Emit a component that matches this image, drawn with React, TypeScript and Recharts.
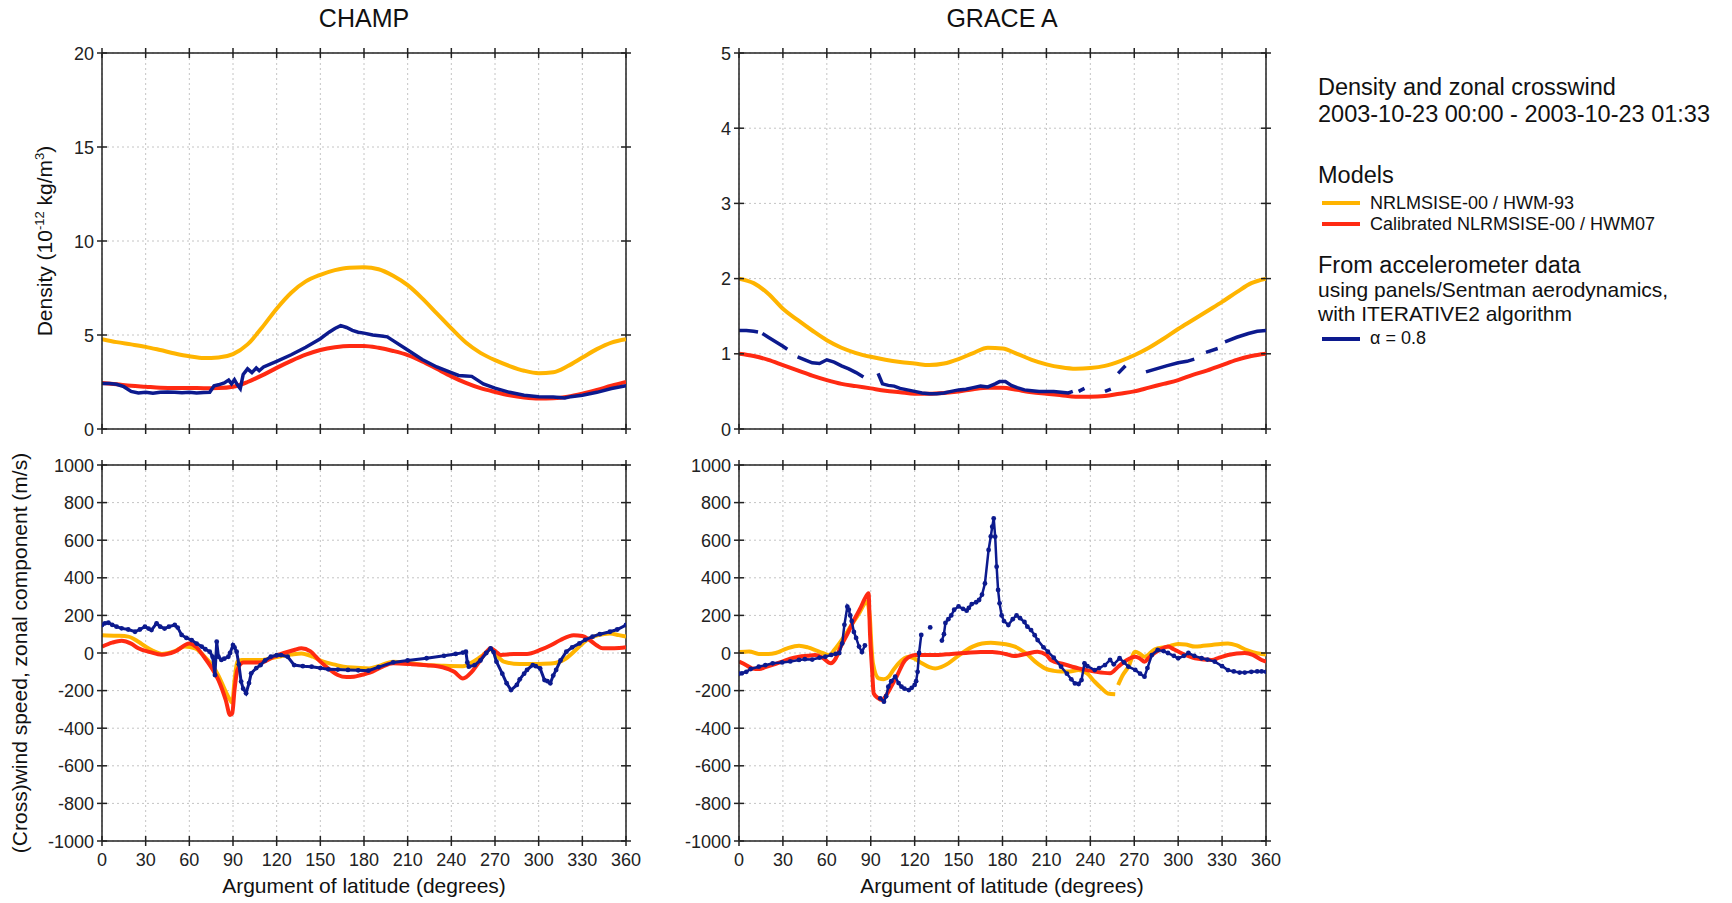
import React from 'react';
import { ComposedChart, Line, XAxis, YAxis, CartesianGrid, ReferenceLine } from 'recharts';

const YELLOW = '#ffb400';
const RED = '#ff2a12';
const BLUE = '#0c1a8e';
const AXIS = '#222';
const FONT = '"Liberation Sans", Arial, sans-serif';

// ticks
const angleTicks = [0, 30, 60, 90, 120, 150, 180, 210, 240, 270, 300, 330, 360];
const champDensityTicks = [0, 5, 10, 15, 20];
const graceDensityTicks = [0, 1, 2, 3, 4, 5];
const windTicks = [-1000, -800, -600, -400, -200, 0, 200, 400, 600, 800, 1000];

// model curves are sampled every 10 degrees
const modelAngles = [0, 10, 20, 30, 40, 50, 60, 70, 80, 90, 100, 110, 120, 130, 140, 150, 160, 170, 180,
  190, 200, 210, 220, 230, 240, 250, 260, 270, 280, 290, 300, 310, 320, 330, 340, 350, 360];

const champNrlDensity = [4.78, 4.62, 4.5, 4.37, 4.2, 4.02, 3.87, 3.77, 3.8, 3.98, 4.5, 5.4, 6.4, 7.25, 7.85, 8.2, 8.45, 8.58, 8.6,
  8.5, 8.15, 7.65, 6.95, 6.15, 5.35, 4.6, 4.05, 3.66, 3.35, 3.1, 2.97, 3.02, 3.35, 3.8, 4.25, 4.6, 4.78];
const champCalDensity = [2.45, 2.38, 2.3, 2.25, 2.2, 2.18, 2.18, 2.17, 2.18, 2.25, 2.5, 2.85, 3.25, 3.62, 3.95, 4.2, 4.35, 4.42, 4.42,
  4.32, 4.15, 3.93, 3.6, 3.2, 2.8, 2.45, 2.17, 1.97, 1.8, 1.68, 1.62, 1.64, 1.72, 1.88, 2.08, 2.3, 2.5];
const graceNrlDensity = [2.0, 1.94, 1.8, 1.6, 1.45, 1.31, 1.18, 1.08, 1.01, 0.96, 0.92, 0.89, 0.87, 0.85, 0.87, 0.93, 1.01, 1.08, 1.07,
  1.0, 0.92, 0.86, 0.82, 0.8, 0.81, 0.84, 0.9, 0.98, 1.08, 1.2, 1.33, 1.45, 1.57, 1.69, 1.82, 1.94, 2.0];
const graceCalDensity = [1.0, 0.97, 0.92, 0.85, 0.78, 0.71, 0.65, 0.6, 0.57, 0.54, 0.51, 0.49, 0.47, 0.47, 0.48, 0.5, 0.53, 0.55, 0.55,
  0.52, 0.49, 0.47, 0.45, 0.43, 0.43, 0.44, 0.47, 0.5, 0.55, 0.6, 0.65, 0.72, 0.78, 0.85, 0.92, 0.97, 1.0];

type Pt = [number, number | null];

// accelerometer densities (null = data gap)
const champAccDensity: Pt[] = [[0, 2.42], [5, 2.42], [10, 2.38], [15, 2.25], [20, 2.0], [25, 1.92], [30, 1.95], [35, 1.9], [40, 1.95],
  [45, 1.97], [50, 1.95], [55, 1.93], [60, 1.96], [65, 1.92], [70, 1.94], [74, 1.95], [77, 2.3], [80, 2.35], [84, 2.45], [87, 2.6],
  [89, 2.4], [91, 2.62], [93, 2.35], [95, 2.15], [97, 2.9], [100, 3.2], [103, 3.0], [106, 3.25], [108, 3.1], [111, 3.3], [120, 3.6],
  [130, 3.95], [140, 4.35], [150, 4.8], [156, 5.15], [160, 5.35], [164, 5.5], [168, 5.4], [172, 5.25], [176, 5.15], [180, 5.1],
  [186, 5.0], [192, 4.95], [196, 4.9], [200, 4.7], [210, 4.2], [220, 3.7], [230, 3.3], [240, 3.0], [245, 2.85], [250, 2.82],
  [254, 2.8], [258, 2.6], [262, 2.4], [270, 2.17], [280, 1.95], [290, 1.8], [300, 1.72], [310, 1.7], [318, 1.65], [322, 1.72],
  [330, 1.8], [340, 1.95], [350, 2.15], [360, 2.3]];
const graceAccDensity: Pt[] = [[0, 1.31], [5, 1.31], [10, 1.3], [13, 1.29], [14.5, null], [16, 1.27], [20, 1.22], [25, 1.16],
  [30, 1.1], [33, 1.06], [36, null], [40, 0.96], [45, 0.92], [50, 0.88], [55, 0.87], [60, 0.92], [65, 0.89], [70, 0.84], [75, 0.8],
  [80, 0.75], [85, 0.69], [90, null], [95, 0.74], [98, 0.6], [102, 0.58], [106, 0.57], [110, 0.54], [115, 0.52], [120, 0.5],
  [125, 0.48], [130, 0.47], [135, 0.47], [140, 0.48], [145, 0.5], [150, 0.52], [155, 0.53], [160, 0.55], [165, 0.57], [170, 0.56],
  [175, 0.6], [178, 0.63], [182, 0.63], [186, 0.58], [190, 0.55], [195, 0.52], [200, 0.51], [205, 0.5], [210, 0.5], [215, 0.5],
  [220, 0.49], [225, 0.48], [228, 0.5], [230, null], [232, 0.5], [236, 0.54], [240, null], [250, 0.5], [254, 0.53], [256, null],
  [259, 0.74], [264, 0.84], [270, null], [278, 0.76], [285, 0.8], [292, 0.84], [300, 0.88], [306, 0.9], [311, 0.93], [315, null],
  [319, 1.02], [327, 1.07], [330, null], [332, 1.16], [340, 1.22], [348, 1.27], [354, 1.3], [360, 1.31]];

// zonal wind, m/s
const champNrlWind: Pt[] = [[0, 95], [10, 92], [18, 87], [25, 60], [30, 34], [35, 12], [41, -5], [50, 10], [57, 34], [64, 25],
  [70, -15], [75.5, -64], [80, -120], [84.5, -197], [88, -250], [89.5, -265], [91, -150], [93, -46], [96, -37], [109, -37],
  [121, -20], [130, -8], [137, -2], [145, -20], [152, -46], [160, -62], [166, -73], [175, -78], [183.5, -82], [190, -70],
  [200, -46], [212, -55], [223, -64], [235, -68], [248, -70], [255, -46], [262, -10], [267, 20], [271, -10], [276, -46],
  [287, -59], [300, -58], [310, -55], [319, -28], [326, 20], [333, 69], [341, 95], [349, 104], [355, 95], [360, 87]];
const champCalWind: Pt[] = [[0, 34], [7, 55], [13.5, 65], [20, 50], [25, 25], [33, 5], [41, -9], [50, 7], [60, 51], [65, 30],
  [70, -20], [75, -75], [80, -144], [85, -250], [88, -330], [89.5, -320], [91, -200], [93, -90], [97, -50], [109, -51],
  [118, -20], [125, 0], [132, 16], [137, 25], [143, 10], [150, -46], [156, -85], [162, -117], [168, -128], [173, -126],
  [178, -117], [184, -105], [192, -75], [200, -55], [212, -59], [223, -65], [234, -76], [242, -100], [248, -135], [254, -100],
  [260, -37], [264, 5], [267, 25], [271, 5], [274, -10], [283, -5], [292, -5], [301, 16], [308, 40], [315, 69], [324, 95],
  [330, 90], [335, 69], [340, 40], [344, 25], [352, 25], [360, 30]];
const champAccWind: Pt[] = [[0, 149], [2, 158], [4.4, 161], [7, 150], [10, 140], [13.5, 131], [18, 125], [22.7, 113], [26, 125],
  [29.5, 140], [32, 130], [34, 122], [37.5, 158], [40, 140], [43, 130], [46, 140], [50, 149], [52, 135], [54.7, 96], [58, 80],
  [61.6, 69], [65, 50], [68.5, 34], [71, 20], [74, 7], [76, -20], [77.6, -117], [78.8, 60], [80, -20], [82, -37], [84, -30],
  [86.8, -20], [88, 0], [90, 42], [91, 30], [92.5, 7], [94, -60], [95.6, -152], [97, -190], [99, -214], [101, -160],
  [102.5, -108], [106, -80], [109, -64], [112, -40], [116, -20], [120, -12], [123, -11], [127.6, -20], [132, -64], [138, -70],
  [144, -73], [150, -80], [155.5, -87], [162, -88], [169, -90], [176, -92], [183, -94], [190, -75], [200, -50], [210, -40],
  [223, -28], [235, -15], [243, -5], [248, 2], [250, 7], [251, -50], [252, -73], [256, -65], [260, -40], [264, 0], [267, 25],
  [269, 5], [271, -46], [275, -110], [278, -161], [281, -197], [285, -170], [287, -140], [290, -110], [292, -90], [296, -64],
  [298, -70], [301, -82], [304, -144], [306, -150], [308, -161], [310, -120], [312, -90], [315, -40], [319, 7], [323, 30],
  [328, 51], [332, 70], [337, 87], [342, 100], [349, 113], [354, 125], [360, 149]];

const graceNrlWind: Pt[] = [[0, 5], [7, 8], [13.5, -5], [20, -5], [25, 0], [33, 25], [41, 39], [47, 30], [52, 16], [57, 0],
  [61.6, -11], [65, 15], [68.5, 51], [73, 100], [77.6, 158], [82, 210], [87.4, 273], [88.5, 246], [89.5, 176], [90.5, 34],
  [91.5, -55], [95.4, -135], [99, -140], [102.3, -126], [105, -95], [109, -55], [116, -20], [120, -30], [125, -55], [130, -75],
  [134, -82], [138, -75], [143, -55], [149, -20], [155.5, 16], [160, 35], [166, 51], [172, 55], [178, 51], [188.5, 34],
  [197.5, -11], [203, -50], [209, -82], [215, -95], [220, -99], [226, -98], [232, -91], [238, -110], [243, -153], [248, -190],
  [252, -215], [257, -219], [258, null], [259, -170], [262, -120], [266, -73], [270.7, 7], [274, -5], [277, -20], [284, 20],
  [293, 34], [300, 48], [305, 45], [311.5, 34], [317, 38], [323, 43], [329, 48], [334, 51], [340, 40], [345.5, 20], [351, 5],
  [357, -5], [360, -8]];
const graceCalWind: Pt[] = [[0, -46], [5, -65], [9, -82], [14, -85], [18, -75], [24, -60], [29.5, -46], [35, -30], [41, -20],
  [47, -15], [52, -11], [57, -25], [62.7, -55], [66, -30], [69.5, 34], [74, 100], [78.6, 176], [83, 240], [86, 290], [88.5, 318],
  [89.5, 100], [91, -100], [92, -215], [95, -240], [97.6, -250], [101, -220], [104, -179], [108, -120], [113.6, -37],
  [120.4, -11], [128, -10], [136, -10], [145, -5], [155, 0], [165, 5], [173, 5], [182, -5], [188, -16], [196, -5], [204, 7],
  [210, -10], [213, -37], [222, -60], [232, -82], [243, -99], [253.5, -108], [259, -73], [265, -37], [270.7, -20], [274, -30],
  [277, -46], [280, -25], [284, 0], [288, 20], [293, 34], [297, 20], [302, 0], [311.5, -28], [323, -37], [328, -25], [334, -11],
  [340, -3], [345.5, 0], [351, -10], [357, -37], [360, -46]];
const graceAccWind: Pt[] = [[0, -110], [2, -108], [5, -100], [8, -85], [13.5, -73], [18, -65], [23, -55], [29.5, -50], [35, -45],
  [41, -37], [45, -33], [50, -35], [55, -25], [59, -20], [63, -10], [66, -5], [68.5, 0], [70.5, 51], [72, 150], [74, 246],
  [75, 230], [76, 200], [77, 170], [78.5, 112], [80, 80], [82, 34], [84, 5], [86, 40], [90, null], [96.5, -241], [99, -259],
  [100.5, -230], [102, -179], [104, -150], [106.7, -126], [109, -160], [111, -179], [113, -190], [116, -197], [118, -185],
  [120, -170], [121, -150], [122, -100], [123, 0], [124.5, 96], [127, null], [130.6, 136], [134, null], [138.6, 66], [140, 100],
  [141, 160], [143, 180], [145, 200], [147, 230], [150, 248], [153, 235], [155.5, 225], [157, 240], [159, 260], [162, 270],
  [164, 282], [166, 310], [168, 370], [170.5, 548], [172, 620], [173, 672], [174, 716], [175, 619], [176, 459], [177, 335],
  [178, 264], [179.4, 200], [181, 170], [184, 149], [187, 180], [189.6, 200], [192, 185], [195, 165], [197, 140], [199.5, 122],
  [202, 95], [204, 69], [208, 30], [211, 7], [215, -25], [220, -73], [224, -110], [227, -140], [229.5, -162], [232, -165],
  [234, -144], [236, -55], [238, -70], [243, -91], [246, -80], [250, -64], [253.5, -37], [256, -60], [260, -28], [263, -50],
  [266, -73], [270.7, -90], [274, -110], [277, -126], [279, -80], [282, -11], [286, 16], [290, 10], [293, 0], [297, -15],
  [300, -28], [304, -15], [307, 0], [311, -15], [316, -28], [320, -35], [325, -46], [330, -70], [334, -91], [338, -98],
  [342, -104], [345.5, -104], [350, -100], [354, -98], [357, -98], [360, -100]];

type Row = { x: number; y: number | null };
const fromPairs = (pts: Pt[]): Row[] => pts.map(([x, y]) => ({ x, y }));
const fromModel = (vals: number[]): Row[] => modelAngles.map((x, i) => ({ x, y: vals[i] }));

type Series = { rows: Row[]; color: string; width: number; dots?: boolean; smooth?: boolean };

const PT = 20; // space above the plot inside each chart
const PL = 100; // left axis width

function Panel({ left, top, plotW, plotH, yDomain, yTicks, xLabels, series }: {
  left: number; top: number; plotW: number; plotH: number; yDomain: [number, number];
  yTicks: number[]; xLabels: boolean; series: Series[];
}) {
  const pb = PT + plotH;
  const pr = PL + plotW;
  const xTick = (p: any) => (
    <g>
      <line x1={p.x} x2={p.x} y1={pb - 5} y2={pb + 5} stroke={AXIS} strokeWidth={1.5} />
      <line x1={p.x} x2={p.x} y1={PT - 5} y2={PT + 5} stroke={AXIS} strokeWidth={1.5} />
      {xLabels && (
        <text x={p.x} y={pb + 25} textAnchor="middle" fontSize={18} fontFamily={FONT} fill="#222">
          {p.payload.value}
        </text>
      )}
    </g>
  );
  const yTick = (p: any) => (
    <g>
      <line x1={PL - 5} x2={PL + 5} y1={p.y} y2={p.y} stroke={AXIS} strokeWidth={1.5} />
      <line x1={pr - 5} x2={pr + 5} y1={p.y} y2={p.y} stroke={AXIS} strokeWidth={1.5} />
      <text x={PL - 8} y={p.y + 6.5} textAnchor="end" fontSize={18} fontFamily={FONT} fill="#222">
        {p.payload.value}
      </text>
    </g>
  );
  return (
    <div style={{ position: 'absolute', left: left - PL, top: top - PT }}>
      <ComposedChart width={PL + plotW + 20} height={PT + plotH + 50} margin={{ top: PT, right: 20, left: 0, bottom: 0 }}>
        <CartesianGrid stroke="#c4c4c4" strokeDasharray="2 3" />
        <XAxis dataKey="x" type="number" domain={[0, 360]} ticks={angleTicks} interval={0} height={50}
          tick={xTick} tickLine={false} axisLine={{ stroke: AXIS, strokeWidth: 1.5 }} allowDataOverflow />
        <YAxis type="number" domain={yDomain} ticks={yTicks} interval={0} width={PL}
          tick={yTick} tickLine={false} axisLine={{ stroke: AXIS, strokeWidth: 1.5 }} allowDataOverflow />
        <ReferenceLine y={yDomain[1]} stroke={AXIS} strokeWidth={1.5} />
        <ReferenceLine x={360} stroke={AXIS} strokeWidth={1.5} />
        {series.map((s, i) => (
          <Line key={i} data={s.rows} dataKey="y" type={s.smooth ? 'monotone' : 'linear'} stroke={s.color}
            strokeWidth={s.width} dot={s.dots ? { r: 2.4, fill: s.color, stroke: 'none' } : false}
            activeDot={false} connectNulls={false} isAnimationActive={false} />
        ))}
      </ComposedChart>
    </div>
  );
}

const CHAMP_X = 102;
const GRACE_X = 739;
const TOP_Y = 53;
const BOTTOM_Y = 465;
const PLOT_H = 376;

export default function App() {
  const txt = { fontFamily: FONT, fill: '#111' };
  return (
    <div style={{ position: 'absolute', left: 0, top: 0, width: 1732, height: 903, background: '#fff', overflow: 'hidden' }}>
      <Panel left={CHAMP_X} top={TOP_Y} plotW={524} plotH={PLOT_H} yDomain={[0, 20]} yTicks={champDensityTicks}
        xLabels={false} series={[
          { rows: fromModel(champNrlDensity), color: YELLOW, width: 4, smooth: true },
          { rows: fromModel(champCalDensity), color: RED, width: 4, smooth: true },
          { rows: fromPairs(champAccDensity), color: BLUE, width: 3.5 },
        ]} />
      <Panel left={GRACE_X} top={TOP_Y} plotW={527} plotH={PLOT_H} yDomain={[0, 5]} yTicks={graceDensityTicks}
        xLabels={false} series={[
          { rows: fromModel(graceNrlDensity), color: YELLOW, width: 4, smooth: true },
          { rows: fromModel(graceCalDensity), color: RED, width: 4, smooth: true },
          { rows: fromPairs(graceAccDensity), color: BLUE, width: 3.5 },
        ]} />
      <Panel left={CHAMP_X} top={BOTTOM_Y} plotW={524} plotH={PLOT_H} yDomain={[-1000, 1000]} yTicks={windTicks}
        xLabels series={[
          { rows: fromPairs(champNrlWind), color: YELLOW, width: 4, smooth: true },
          { rows: fromPairs(champCalWind), color: RED, width: 4, smooth: true },
          { rows: fromPairs(champAccWind), color: BLUE, width: 3, dots: true },
        ]} />
      <Panel left={GRACE_X} top={BOTTOM_Y} plotW={527} plotH={PLOT_H} yDomain={[-1000, 1000]} yTicks={windTicks}
        xLabels series={[
          { rows: fromPairs(graceNrlWind), color: YELLOW, width: 4, smooth: true },
          { rows: fromPairs(graceCalWind), color: RED, width: 4, smooth: true },
          { rows: fromPairs(graceAccWind), color: BLUE, width: 2.5, dots: true },
        ]} />
      <svg width={1732} height={903} style={{ position: 'absolute', left: 0, top: 0, pointerEvents: 'none' }}>
        <text x={364} y={27} textAnchor="middle" fontSize={25} {...txt}>CHAMP</text>
        <text x={1002} y={27} textAnchor="middle" fontSize={25} {...txt}>GRACE A</text>
        <text transform="translate(52,241) rotate(-90)" textAnchor="middle" fontSize={21} {...txt}>
          Density (10<tspan dy={-8} fontSize={13}>-12</tspan><tspan dy={8}> kg/m</tspan>
          <tspan dy={-8} fontSize={13}>3</tspan><tspan dy={8}>)</tspan>
        </text>
        <text transform="translate(27,653) rotate(-90)" textAnchor="middle" fontSize={21} {...txt}>
          (Cross)wind speed, zonal component (m/s)
        </text>
        <text x={364} y={893} textAnchor="middle" fontSize={21} {...txt}>Argument of latitude (degrees)</text>
        <text x={1002} y={893} textAnchor="middle" fontSize={21} {...txt}>Argument of latitude (degrees)</text>

        <text x={1318} y={95} fontSize={23.5} {...txt}>Density and zonal crosswind</text>
        <text x={1318} y={122} fontSize={23.5} {...txt}>2003-10-23 00:00 - 2003-10-23 01:33</text>
        <text x={1318} y={183} fontSize={23.5} {...txt}>Models</text>
        <line x1={1322} x2={1360} y1={203} y2={203} stroke={YELLOW} strokeWidth={4} />
        <text x={1370} y={209} fontSize={18} {...txt}>NRLMSISE-00 / HWM-93</text>
        <line x1={1322} x2={1360} y1={224} y2={224} stroke={RED} strokeWidth={4} />
        <text x={1370} y={230} fontSize={18} {...txt}>Calibrated NLRMSISE-00 / HWM07</text>
        <text x={1318} y={273} fontSize={23.5} {...txt}>From accelerometer data</text>
        <text x={1318} y={297} fontSize={21} {...txt}>using panels/Sentman aerodynamics,</text>
        <text x={1318} y={321} fontSize={21} {...txt}>with ITERATIVE2 algorithm</text>
        <line x1={1322} x2={1360} y1={339} y2={339} stroke={BLUE} strokeWidth={4} />
        <text x={1370} y={344} fontSize={18} {...txt}>α = 0.8</text>
      </svg>
    </div>
  );
}
